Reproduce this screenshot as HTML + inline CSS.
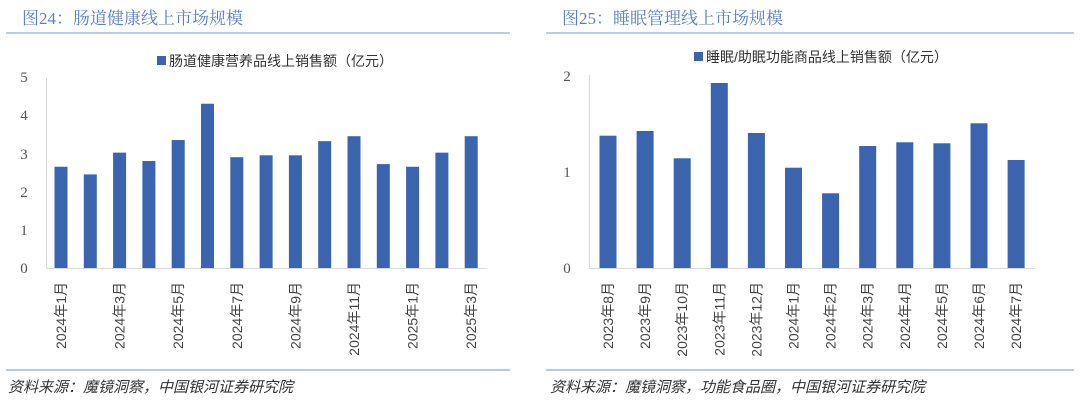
<!DOCTYPE html>
<html><head><meta charset="utf-8"><style>
body{margin:0;background:#fff;width:1080px;height:406px;overflow:hidden}
svg{display:block;font-family:"Liberation Sans","Noto Sans CJK SC",sans-serif}
</style></head><body>
<svg width="1080" height="406" viewBox="0 0 1080 406" xmlns="http://www.w3.org/2000/svg">
<g font-size="17" fill="#5b7fc4" font-family="Liberation Serif, Noto Serif CJK SC, serif">
<text x="22" y="24">图24：肠道健康线上市场规模</text>
<text x="562" y="24">图25：睡眠管理线上市场规模</text>
</g>
<line x1="6" y1="33" x2="510" y2="33" stroke="#8eaadb" stroke-width="1.2"/>
<line x1="546" y1="33" x2="1074" y2="33" stroke="#8eaadb" stroke-width="1.2"/>
<line x1="6" y1="370" x2="510" y2="370" stroke="#8eaadb" stroke-width="1.2"/>
<line x1="546" y1="370" x2="1074" y2="370" stroke="#8eaadb" stroke-width="1.2"/>
<g font-size="15" fill="#333" font-style="italic">
<text x="8" y="392">资料来源：魔镜洞察，中国银河证券研究院</text>
<text x="550" y="392">资料来源：魔镜洞察，功能食品圈，中国银河证券研究院</text>
</g>
<rect x="157" y="56" width="9" height="9" fill="#3a64ae"/>
<text x="169" y="66" font-size="14" fill="#333">肠道健康营养品线上销售额（亿元）</text>
<rect x="694" y="52" width="9" height="9" fill="#3a64ae"/>
<text x="706" y="62" font-size="14" fill="#333">睡眠/助眠功能商品线上销售额（亿元）</text>
<g font-size="15" fill="#555" font-family="Liberation Serif, serif" text-anchor="middle">
<text x="24" y="82">5</text><text x="24" y="120">4</text><text x="24" y="159">3</text><text x="24" y="197">2</text><text x="24" y="235">1</text><text x="24" y="273">0</text>
<text x="567" y="81">2</text><text x="567" y="177">1</text><text x="567" y="273">0</text>
</g>
<line x1="46.5" y1="78" x2="46.5" y2="268" stroke="#d9d9d9"/>
<line x1="46" y1="268.5" x2="487" y2="268.5" stroke="#d9d9d9"/>
<line x1="589.5" y1="75" x2="589.5" y2="268" stroke="#d9d9d9"/>
<line x1="589" y1="268.5" x2="1035" y2="268.5" stroke="#d9d9d9"/>
<g fill="#3a64ae" id="L"></g>
<g fill="#3a64ae" id="R"></g>
<g font-size="14" fill="#444" text-anchor="end" id="LL"></g>
<g font-size="14" fill="#444" text-anchor="end" id="RL"></g>
</svg>
<script>
var ns="http://www.w3.org/2000/svg";
function add(p,tag,a,txt){var e=document.createElementNS(ns,tag);for(var k in a)e.setAttribute(k,a[k]);if(txt)e.textContent=txt;document.getElementById(p).appendChild(e);}
var lv=[2.65,2.45,3.02,2.8,3.35,4.3,2.9,2.95,2.95,3.32,3.45,2.72,2.65,3.02,3.45];
var lab=["2024年1月","2024年3月","2024年5月","2024年7月","2024年9月","2024年11月","2025年1月","2025年3月"];
for(var i=0;i<15;i++){var cx=61+i*29.3,h=lv[i]*38.2;add("L","rect",{x:cx-6.5,y:268-h,width:13,height:h});
 if(i%2==0){add("LL","text",{transform:"translate("+(cx+5)+",282) rotate(-90)"},lab[i/2]);}}
var rt=[135.7,131,158.3,83,133,167.7,193.3,146,142.3,143.3,123.3,160];
var rl=["2023年8月","2023年9月","2023年10月","2023年11月","2023年12月","2024年1月","2024年2月","2024年3月","2024年4月","2024年5月","2024年6月","2024年7月"];
for(var i=0;i<12;i++){var cx=608+i*37.1;add("R","rect",{x:cx-8.5,y:rt[i],width:17,height:268-rt[i]});
 add("RL","text",{transform:"translate("+(cx+5)+",282) rotate(-90)"},rl[i]);}
</script>
</body></html>
